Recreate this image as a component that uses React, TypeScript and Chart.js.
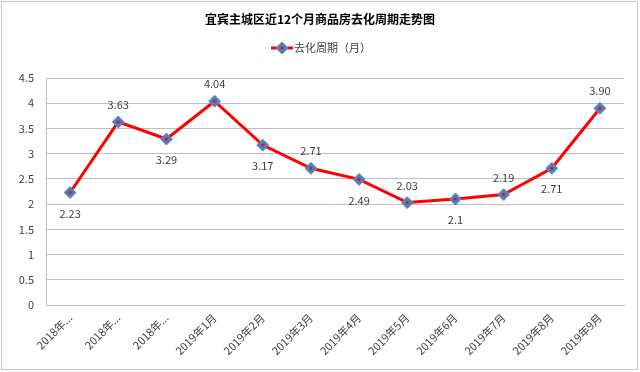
import React, { useEffect, useRef } from "react";
import { Chart, registerables } from "chart.js";
Chart.register(...registerables);

const categories = [
  "2018年10月", "2018年11月", "2018年12月", "2019年1月", "2019年2月", "2019年3月",
  "2019年4月", "2019年5月", "2019年6月", "2019年7月", "2019年8月", "2019年9月",
];
const values = [2.23, 3.63, 3.29, 4.04, 3.17, 2.71, 2.49, 2.03, 2.1, 2.19, 2.71, 3.9];
const valueLabels = ["2.23", "3.63", "3.29", "4.04", "3.17", "2.71", "2.49", "2.03", "2.1", "2.19", "2.71", "3.90"];
const labelAbove = [false, true, false, true, false, true, false, true, false, true, false, true];
const seriesName = "去化周期（月）";
const titleText = "宜宾主城区近12个月商品房去化周期走势图";

const FONT = '"Noto Sans CJK SC", "Noto Sans", sans-serif';

function makeMarker(): HTMLCanvasElement {
  const c = document.createElement("canvas");
  c.width = 14;
  c.height = 14;
  const g = c.getContext("2d")!;
  g.beginPath();
  g.moveTo(7, 1);
  g.lineTo(13, 7);
  g.lineTo(7, 13);
  g.lineTo(1, 7);
  g.closePath();
  g.fillStyle = "#4F81BD";
  g.fill();
  g.strokeStyle = "#5B8BC6";
  g.lineWidth = 1;
  g.stroke();
  g.beginPath();
  g.arc(7, 7, 1.6, 0, Math.PI * 2);
  g.fillStyle = "#FF0000";
  g.fill();
  return c;
}

export default function App() {
  const ref = useRef<HTMLCanvasElement>(null);
  useEffect(() => {
    document.body.style.margin = "0";
    const marker = makeMarker();
    const decor = {
      id: "decor",
      afterDraw(chart: any) {
        const ctx = chart.ctx;
        ctx.save();
        ctx.strokeStyle = "#c8c8c8";
        ctx.lineWidth = 1;
        ctx.strokeRect(1.5, 1.5, 636, 368);
        ctx.fillStyle = "#000000";
        ctx.font = `bold 12px ${FONT}`;
        ctx.textAlign = "center";
        ctx.textBaseline = "middle";
        ctx.fillText(titleText, 320, 19);
        ctx.strokeStyle = "#FF0000";
        ctx.lineWidth = 3;
        ctx.beginPath();
        ctx.moveTo(271, 48);
        ctx.lineTo(293, 48);
        ctx.stroke();
        ctx.drawImage(marker, 282 - 7, 48 - 7);
        ctx.fillStyle = "#404040";
        ctx.font = `11px ${FONT}`;
        ctx.textAlign = "left";
        ctx.fillText(seriesName, 294, 48);
        const meta = chart.getDatasetMeta(0);
        ctx.textAlign = "center";
        ctx.font = `11px ${FONT}`;
        meta.data.forEach((pt: any, i: number) => {
          const y = labelAbove[i] ? pt.y - 17 : pt.y + 21;
          ctx.fillText(valueLabels[i], pt.x, y);
        });
        ctx.restore();
      },
    };
    const chart = new Chart(ref.current!, {
      type: "line",
      data: {
        labels: categories,
        datasets: [
          {
            label: seriesName,
            data: values,
            borderColor: "#FF0000",
            borderWidth: 3,
            pointStyle: marker as any,
            pointRadius: 6,
            tension: 0,
          },
        ],
      },
      options: {
        responsive: false,
        animation: false,
        layout: { padding: { top: 78, right: 16, left: 0, bottom: 0 } },
        plugins: { legend: { display: false }, title: { display: false }, tooltip: { enabled: false } },
        scales: {
          x: {
            offset: true,
            grid: { display: false, drawTicks: false },
            border: { display: true, color: "#bfbfbf" },
            ticks: {
              minRotation: 45,
              maxRotation: 45,
              autoSkip: false,
              color: "#404040",
              font: { family: FONT, size: 11 },
              padding: 6,
              callback: function (this: any, v: any) {
                const s = this.getLabelForValue(v) as string;
                return s.length > 7 ? s.slice(0, 5) + "..." : s;
              },
            },
            afterFit(scale: any) {
              scale.height = 67;
            },
          },
          y: {
            min: 0,
            max: 4.5,
            grid: { color: "#bfbfbf", drawTicks: false },
            border: { display: true, color: "#bfbfbf" },
            ticks: {
              stepSize: 0.5,
              color: "#404040",
              font: { family: FONT, size: 11 },
              padding: 12,
              callback: (v: any) => String(Number(v)),
            },
            afterFit(scale: any) {
              scale.width = 46;
            },
          },
        },
      },
      plugins: [decor],
    });
    return () => chart.destroy();
  }, []);
  return <canvas ref={ref} width={640} height={372} style={{ display: "block" }} />;
}
